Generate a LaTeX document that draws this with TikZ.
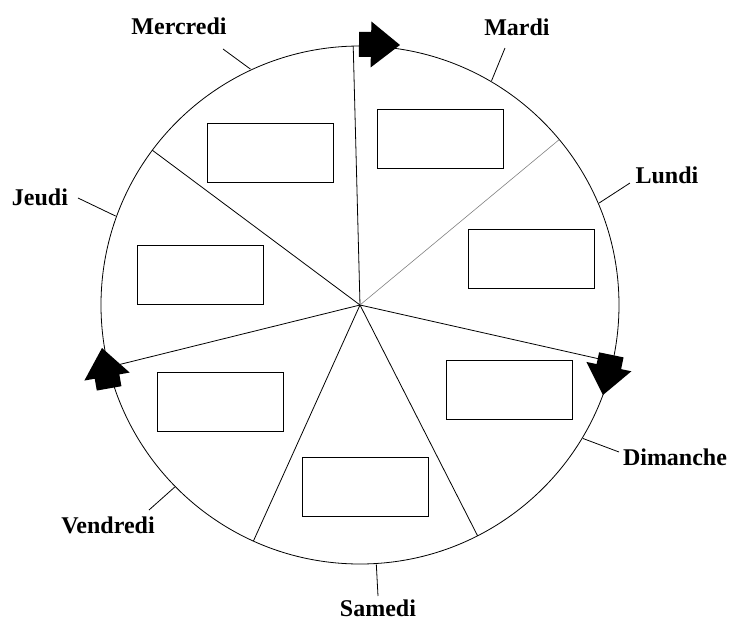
\documentclass[tikz,border=0pt]{standalone}
\usepackage{fontspec}
\setmainfont{Liberation Serif}
\usepackage{tikz}
\usetikzlibrary{positioning}

\tikzset{
  dayname/.style={inner sep=0pt, font=\bfseries\fontsize{24}{28}\selectfont},
  daybox/.style={draw, line width=0.8pt, minimum width=126pt, minimum height=59pt, inner sep=0pt},
  spoke/.style={line width=0.8pt},
  blockarrow/.style={fill=black}
}

\begin{document}
\begin{tikzpicture}[x=1pt, y=1pt]
\useasboundingbox (-360,-317) rectangle (372,305);

% wheel and spokes
\coordinate (hub) at (0,0);
\draw [line width=0.8pt] (hub) circle (259);
\foreach \a in {91.5, -12.7, -63, -114.3, 193.9, 143.3}
  \draw [spoke] (hub) -- (\a:259);
\draw [gray, line width=0.6pt] (hub) -- (39.7:259);

% boxes in the sectors
\node [daybox] (box-mardi)    at (80,166) {};
\node [daybox] (box-lundi)    at (171,46) {};
\node [daybox] (box-dimanche) at (149,-84.5) {};
\node [daybox] (box-samedi)   at (5,-181.5) {};
\node [daybox] (box-vendredi) at (-140,-96.5) {};
\node [daybox] (box-jeudi)    at (-160,30.5) {};
\node [daybox] (box-mercredi) at (-90,152.5) {};

% day names
\node [dayname] (mardi)    at (157,278) {Mardi};
\node [dayname] (lundi)    at (307,130) {Lundi};
\node [dayname] (dimanche) at (315,-152) {Dimanche};
\node [dayname] (samedi)   at (18,-303) {Samedi};
\node [dayname] (vendredi) at (-252,-220) {Vendredi};
\node [dayname] (jeudi)    at (-320,108) {Jeudi};
\node [dayname] (mercredi) at (-181,279) {Mercredi};

% ticks from the rim
\foreach \day/\a/\x/\y in {mardi/59.6/145/257, lundi/23.1/270/122, dimanche/-30.9/259/-147,
    samedi/-86.4/18/-291, vendredi/-135.5/-211/-205, jeudi/160/-282/107, mercredi/114.9/-137/256}
{
  \coordinate (\day-rim) at (\a:260);
  \coordinate (\day-end) at (\x,\y);
  \draw [line width=0.8pt] (\day-rim) -- (\day-end);
}

% big arrows along the rim (tip, direction)
\foreach \x/\y/\r in {40/260/-1, 243/-90/-101.7, -258/-43/100}
  \fill [blockarrow, shift={(\x,\y)}, rotate=\r]
    (-41,12.5) -- (-29,12.5) -- (-29,23) -- (0,0) -- (-29,-23) -- (-29,-12.5) -- (-41,-12.5) -- cycle;
\end{tikzpicture}
\end{document}
